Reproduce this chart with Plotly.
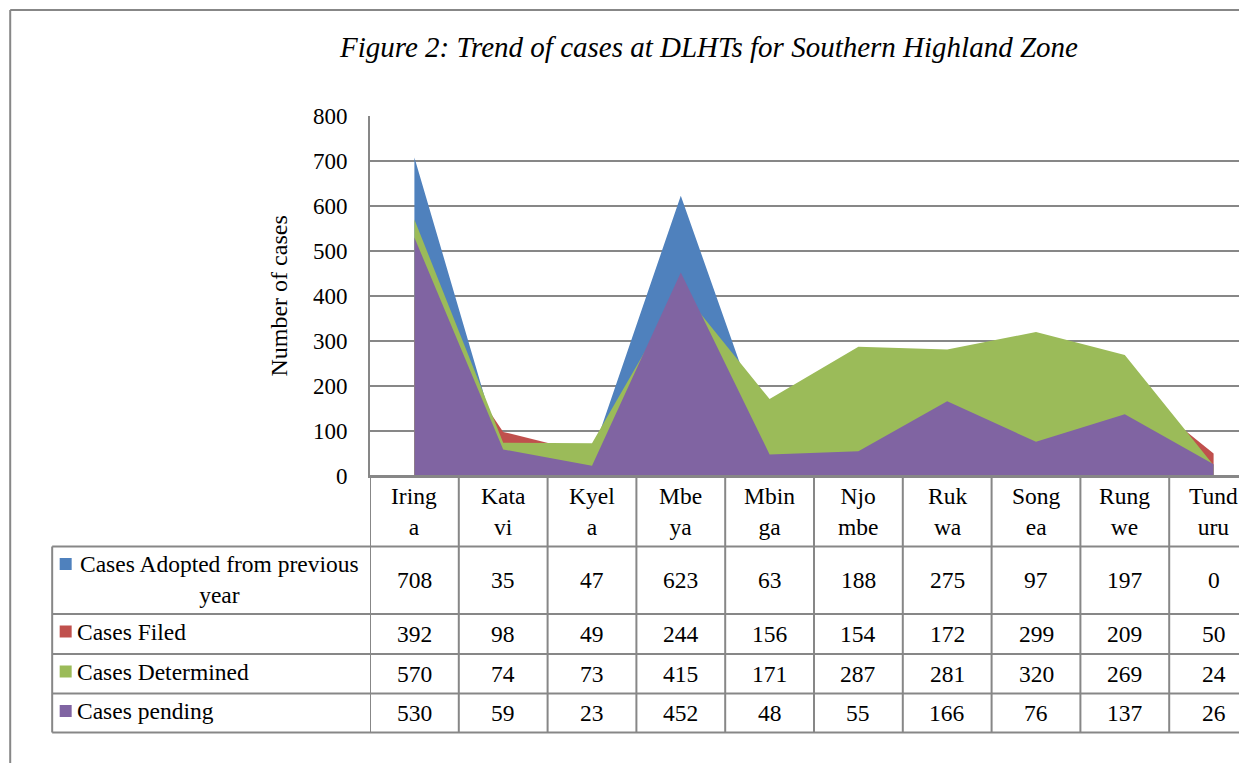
import plotly.graph_objects as go

categories = ["Iringa", "Katavi", "Kyela", "Mbeya", "Mbinga", "Njombe", "Rukwa", "Songea", "Rungwe", "Tunduru"]
header_labels = ["Iring<br>a", "Kata<br>vi", "Kyel<br>a", "Mbe<br>ya", "Mbin<br>ga", "Njo<br>mbe", "Ruk<br>wa", "Song<br>ea", "Rung<br>we", "Tund<br>uru"]

series_names = ["Cases Adopted from previous year", "Cases Filed", "Cases Determined", "Cases pending"]
series_labels = ["Cases Adopted from previous<br>year", "Cases Filed", "Cases Determined", "Cases pending"]
adopted = [708, 35, 47, 623, 63, 188, 275, 97, 197, 0]
filed = [392, 98, 49, 244, 156, 154, 172, 299, 209, 50]
determined = [570, 74, 73, 415, 171, 287, 281, 320, 269, 24]
pending = [530, 59, 23, 452, 48, 55, 166, 76, 137, 26]
series_values = [adopted, filed, determined, pending]
colors = ["#4F81BD", "#C0504D", "#9BBB59", "#8064A2"]

OFF = 8                      # page body margin
PW, PH = 1247, 763           # page size
W, H = PW, PH - OFF          # figure size
L, R, T, B = 369.5, PW + OFF, 116, 476  # plot area in page pixels
GRAY = "#878787"
FONT = "Liberation Serif"
FS = 23.5

def px_x(p):
    return (p - L) / (R - L)

def px_y(p):
    return (B - p) / (B - T)

xs = list(range(len(categories)))

fig = go.Figure()
for name, vals, col in zip(series_names, series_values, colors):
    fig.add_trace(go.Scatter(
        x=xs, y=vals, name=name, mode="lines", fill="tozeroy",
        line=dict(width=0, color=col), fillcolor=col, showlegend=False,
        hoverinfo="x+y+name",
    ))

shapes = []
annotations = []

# outer frame
shapes.append(dict(type="line", xref="paper", yref="paper", x0=px_x(9.5), x1=px_x(R + 5),
                   y0=px_y(10), y1=px_y(10), line=dict(color=GRAY, width=2)))
shapes.append(dict(type="line", xref="paper", yref="paper", x0=px_x(9.5), x1=px_x(9.5),
                   y0=px_y(10), y1=px_y(PH + 5), line=dict(color=GRAY, width=2)))

# table geometry (page pixels)
row_edges = [476, 546.5, 614, 654, 693.5, 732.5]
tab_left = 51.5

for i in range(len(categories) + 1):
    shapes.append(dict(type="line", xref="x", yref="paper", x0=i - 0.5, x1=i - 0.5,
                       y0=px_y(row_edges[0]), y1=px_y(row_edges[-1]),
                       line=dict(color=GRAY, width=2)))
shapes.append(dict(type="line", xref="paper", yref="paper", x0=px_x(tab_left), x1=px_x(tab_left),
                   y0=px_y(row_edges[1]), y1=px_y(row_edges[-1]), line=dict(color=GRAY, width=2)))
for k, ry in enumerate(row_edges):
    x0 = px_x(L) if k == 0 else px_x(tab_left)
    shapes.append(dict(type="line", xref="paper", yref="paper", x0=x0, x1=1.0,
                       y0=px_y(ry), y1=px_y(ry), line=dict(color=GRAY, width=2)))

for i, lab in enumerate(header_labels):
    annotations.append(dict(x=i, y=px_y((row_edges[0] + row_edges[1]) / 2), xref="x", yref="paper",
                            text=lab, showarrow=False, xanchor="center", yanchor="middle",
                            font=dict(family=FONT, size=FS, color="black")))

for r, (lab, vals, col) in enumerate(zip(series_labels, series_values, colors)):
    top, bot = row_edges[r + 1], row_edges[r + 2]
    cy = (top + bot) / 2
    ky = top + 11.5
    shapes.append(dict(type="rect", xref="paper", yref="paper", x0=px_x(59), x1=px_x(71),
                       y0=px_y(ky), y1=px_y(ky + 12), fillcolor=col, line=dict(width=0)))
    if "<br>" in lab:
        annotations.append(dict(x=px_x(219), y=px_y(cy - 1), xref="paper", yref="paper", text=lab,
                                showarrow=False, xanchor="center", yanchor="middle", align="center",
                                font=dict(family=FONT, size=FS, color="black")))
    else:
        annotations.append(dict(x=px_x(74), y=px_y(cy - 2), xref="paper", yref="paper", text=lab,
                                showarrow=False, xanchor="left", yanchor="middle",
                                font=dict(family=FONT, size=FS, color="black")))
    for i, v in enumerate(vals):
        annotations.append(dict(x=i, y=px_y(cy), xref="x", yref="paper", text=str(v),
                                showarrow=False, xanchor="center", yanchor="middle",
                                font=dict(family=FONT, size=FS, color="black")))

annotations.append(dict(x=px_x(708), y=px_y(47), xref="paper", yref="paper",
                        text="<i>Figure 2: Trend of cases at DLHTs for Southern Highland Zone</i>",
                        showarrow=False, xanchor="center", yanchor="middle",
                        font=dict(family=FONT, size=29, color="black")))
annotations.append(dict(x=px_x(278), y=px_y(296), xref="paper", yref="paper",
                        text="Number of cases", textangle=-90, showarrow=False,
                        xanchor="center", yanchor="middle",
                        font=dict(family=FONT, size=24, color="black")))

col_w = 88.85
fig.update_layout(
    width=W, height=H,
    margin=dict(l=L - OFF, r=0, t=T - OFF, b=PH - B, pad=0),
    paper_bgcolor="white", plot_bgcolor="white",
    showlegend=False,
    shapes=shapes, annotations=annotations,
    xaxis=dict(range=[-0.5, -0.5 + (R - L) / col_w], showgrid=False, zeroline=False,
               showticklabels=False, ticks="", showline=True, linecolor=GRAY, linewidth=2,
               fixedrange=True),
    yaxis=dict(range=[0, 800], dtick=100, showgrid=True, gridcolor=GRAY, gridwidth=2,
               zeroline=False, showline=True, linecolor=GRAY, linewidth=2,
               ticks="outside", ticklen=16, tickcolor="rgba(0,0,0,0)",
               tickfont=dict(family=FONT, size=23, color="black"), fixedrange=True),
)

fig.write_html("out.html")
